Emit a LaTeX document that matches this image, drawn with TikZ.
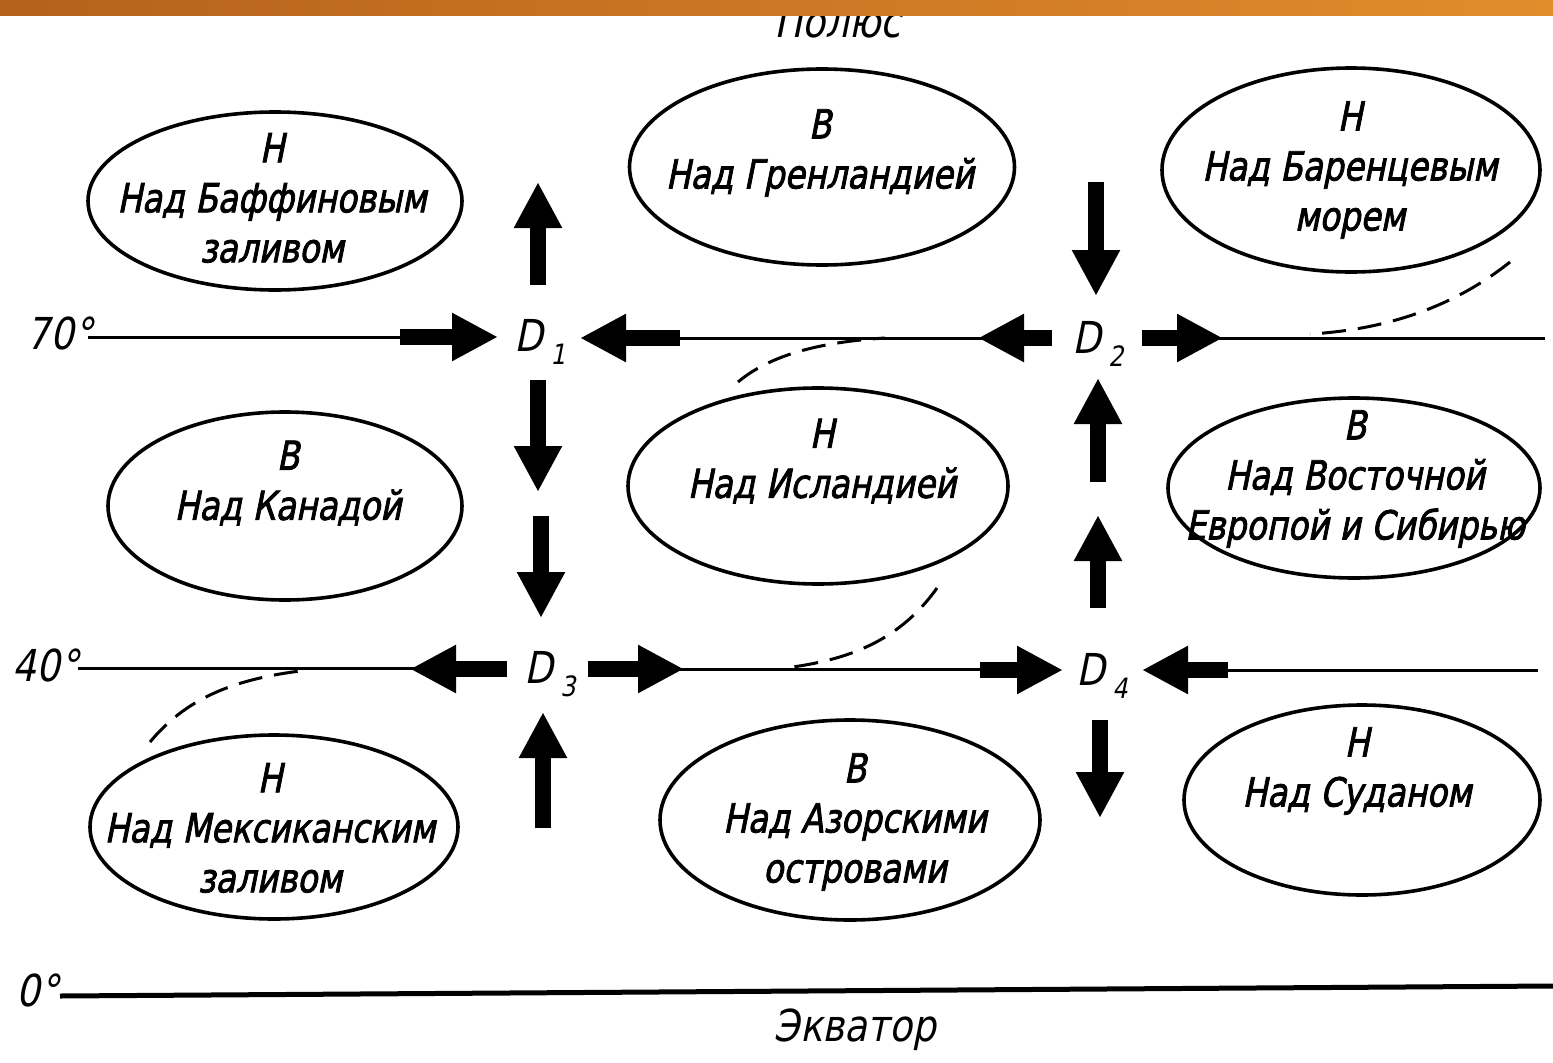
\documentclass[tikz,border=0pt]{standalone}
\usepackage{fontspec}
\newfontfamily\hand[FakeSlant=0.2,FakeStretch=0.85]{DejaVu Sans}
\newfontfamily\handb[FakeSlant=0.2,FakeStretch=0.82,FakeBold=2]{DejaVu Sans}
\usetikzlibrary{shapes.geometric,arrows.meta}
\definecolor{barL}{HTML}{B4621C}
\definecolor{barR}{HTML}{E28C2C}
\newcommand{\dlab}[1]{D\kern7pt\raisebox{-0.3em}{\fontsize{28}{28}\selectfont #1}}
\begin{document}
\begin{tikzpicture}[x=1pt,y=-1pt,
  ell/.style={draw, ellipse, line width=3.6pt, inner sep=0pt},
  txt/.style={font={\handb\fontsize{40}{50}\selectfont}, align=center, inner sep=0pt},
  lbl/.style={font={\hand\fontsize{44}{44}\selectfont}, inner sep=0pt},
  lat/.style={line width=3pt},
  blk/.style={line width=16pt, -{Triangle[length=46pt,width=45pt]}},
  dsh/.style={line width=3pt, dash pattern=on 24pt off 12pt}]
\useasboundingbox (0,0) rectangle (1553,1063);
\fill[white] (0,0) rectangle (1553,1063);
% pole label (partly hidden under the bar)
\node[lbl] (pole) at (838,22) {Полюс};
\shade[left color=barL, right color=barR] (0,0) rectangle (1553,15);

% ellipses
\node[ell, minimum width=374pt, minimum height=178pt] (e1) at (275,201) {};
\node[ell, minimum width=385pt, minimum height=196pt] (e2) at (822,167) {};
\node[ell, minimum width=378pt, minimum height=204pt] (e3) at (1351,170) {};
\node[ell, minimum width=354pt, minimum height=188pt] (e4) at (285,506) {};
\node[ell, minimum width=380pt, minimum height=196pt] (e5) at (818,486) {};
\node[ell, minimum width=372pt, minimum height=180pt] (e6) at (1354,488) {};
\node[ell, minimum width=368pt, minimum height=184pt] (e7) at (274,827) {};
\node[ell, minimum width=380pt, minimum height=200pt] (e8) at (850,820) {};
\node[ell, minimum width=356pt, minimum height=190pt] (e9) at (1362,800) {};

\node[txt] (t1) at (272,198) {Н\\Над Баффиновым\\заливом};
\node[txt] (t2) at (820,153) {В\\Над Гренландией};
\node[txt] (t3) at (1350,170) {Н\\Над Баренцевым\\морем};
\node[txt] (t4) at (288,483) {В\\Над Канадой};
\node[txt] (t5) at (822,461) {Н\\Над Исландией};
\node[txt] (t6) at (1355,479) {В\\Над Восточной\\Европой и Сибирью};
\node[txt] (t7) at (270,828) {Н\\Над Мексиканским\\заливом};
\node[txt] (t8) at (855,822) {В\\Над Азорскими\\островами};
\node[txt] (t9) at (1357,771) {Н\\Над Суданом};

% D labels
\node[lbl] (D1) at (540,342) {\dlab{1}};
\node[lbl] (D2) at (1098,344) {\dlab{2}};
\node[lbl] (D3) at (550,674) {\dlab{3}};
\node[lbl] (D4) at (1102,676) {\dlab{4}};

% latitude labels
\node[lbl] (l70) at (60,333) {70°};
\node[lbl] (l40) at (46,665) {40°};
\node[lbl] (l0) at (38,990) {0°};
\node[lbl] (eq) at (855,1030) {Экватор};

% 70 deg line
\draw[lat] (88,337) -- (410,337);
\draw[lat] (680,338) -- (985,338);
\draw[lat] (1215,338) -- (1545,338);
\draw[blk] (400,337) -- (498,337);
\draw[blk] (680,338) -- (580,338);
\draw[blk] (1052,338) -- (978,338);
\draw[blk] (1142,338) -- (1223,338);

% 40 deg line
\draw[lat] (78,668) -- (415,668);
\draw[lat] (680,669) -- (990,669);
\draw[lat] (1225,670) -- (1538,670);
\draw[blk] (507,669) -- (410,669);
\draw[blk] (588,669) -- (684,669);
\draw[blk] (980,670) -- (1063,670);
\draw[blk] (1228,670) -- (1142,670);

% equator
\draw[line width=5pt] (60,996) -- (1553,986);

% vertical arrows
\draw[blk] (538,285) -- (538,182);
\draw[blk] (538,380) -- (538,492);
\draw[blk] (541,516) -- (541,618);
\draw[blk] (543,828) -- (543,712);
\draw[blk] (1096,182) -- (1096,296);
\draw[blk] (1098,482) -- (1098,378);
\draw[blk] (1098,608) -- (1098,515);
\draw[blk] (1100,720) -- (1100,818);

% dashed fronts
\draw[dsh] (1510,262) .. controls (1450,310) and (1380,330) .. (1310,334);
\draw[dsh] (738,382) .. controls (770,355) and (820,342) .. (885,338);
\draw[dsh] (937,588) .. controls (900,640) and (850,660) .. (785,668);
\draw[dsh] (150,742) .. controls (185,700) and (230,680) .. (300,671);
\end{tikzpicture}
\end{document}
